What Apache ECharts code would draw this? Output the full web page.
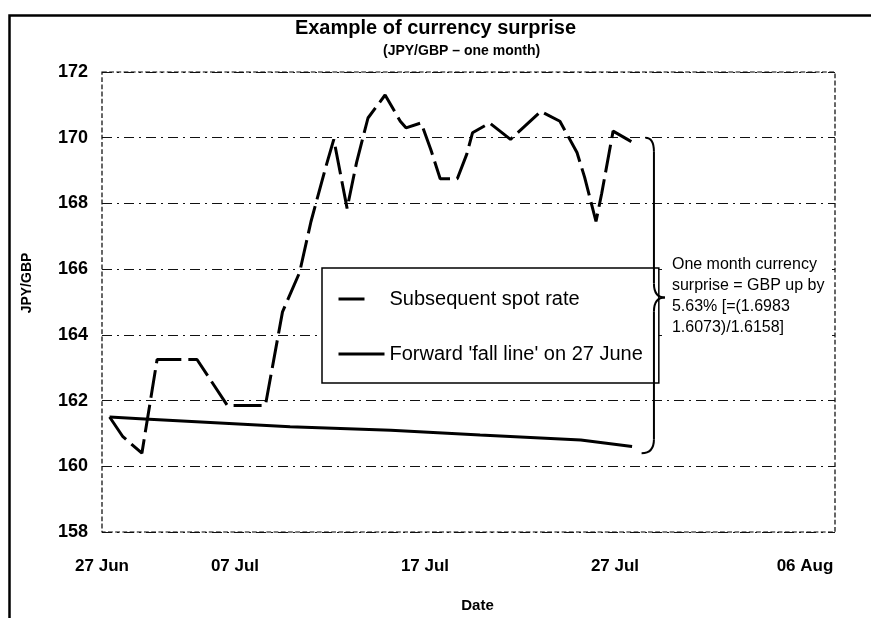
<!DOCTYPE html>
<html>
<head>
<meta charset="utf-8">
<script src="https://cdn.jsdelivr.net/npm/echarts@6/dist/echarts.min.js"></script>
<style>
html,body{margin:0;padding:0;background:#fff;}
#chart{width:871px;height:618px;}
</style>
</head>
<body>
<div id="chart"></div>
<script>
// x = days after 27 Jun
var spotDays = [3.4, 4.1, 5.1, 5.9, 8.0, 9.6, 11.6, 12.5, 13.4, 14.0, 14.8, 15.2, 15.9, 16.4, 17.0, 17.9, 18.7, 19.0, 19.8, 20.3, 20.8, 21.7, 22.2, 22.5, 23.4, 24.5, 26.1, 27.1, 28.0, 28.4, 29.0, 29.3, 29.9, 31.1];
var spotRate = [161.5, 160.9, 160.4, 163.25, 163.25, 161.85, 161.85, 164.7, 165.9, 167.45, 169.15, 169.95, 167.85, 169.25, 170.6, 171.3, 170.5, 170.3, 170.45, 169.65, 168.75, 168.75, 169.5, 170.15, 170.45, 169.95, 170.8, 170.5, 169.55, 168.8, 167.45, 168.3, 170.2, 169.8];
var fwdDays = [3.4, 5.0, 12.9, 18.2, 22.9, 28.2, 30.9];
var fwdRate = [161.5, 161.45, 161.2, 161.1, 160.95, 160.8, 160.6];

var tickDays = [0, 10, 20, 30, 40];
var tickLabels = ["27 Jun", "07 Jul", "17 Jul", "27 Jul", "06 Aug"];
var noteLines = ["One month currency", "surprise = GBP up by", "5.63% [=(1.6983", "1.6073)/1.6158]"];

var xMin = 3.0, xMax = 41.58;
var font = "'Liberation Sans', Arial, sans-serif";

function pairs(xs, ys){
    return xs.map(function(x, i){ return [x, ys[i]]; });
}

var myChart = echarts.init(document.getElementById('chart'));
myChart.setOption({
    animation: false,
    backgroundColor: '#fff',
    textStyle: {fontFamily: font, color: '#000'},
    title: [
        {text: 'Example of currency surprise', left: 'center', top: 13,
         textStyle: {fontSize: 20, fontWeight: 'bold', color: '#000', fontFamily: font}},
        {text: '(JPY/GBP \u2013 one month)', left: 378, top: 39,
         textStyle: {fontSize: 14, fontWeight: 'bold', color: '#000', fontFamily: font}}
    ],
    legend: {
        orient: 'vertical',
        left: 322, top: 268,
        padding: [21, 16, 19, 15],
        itemGap: 35,
        itemWidth: 46,
        itemHeight: 14,
        backgroundColor: '#fff',
        borderColor: '#000',
        borderWidth: 1.5,
        borderRadius: 0,
        itemStyle: {opacity: 0},
        textStyle: {fontSize: 20, color: '#000', fontFamily: font},
        data: [
            {name: 'Subsequent spot rate', lineStyle: {type: [26, 30], width: 3}},
            {name: "Forward 'fall line' on 27 June", lineStyle: {width: 3}}
        ]
    },
    grid: {left: 102, right: 36, top: 72, bottom: 83, show: true,
           borderColor: '#000', borderWidth: 1.2, borderType: 'dashed'},
    xAxis: {
        type: 'value', min: xMin, max: xMax,
        name: 'Date', nameLocation: 'middle', nameGap: 66,
        nameTextStyle: {fontSize: 15, fontWeight: 'bold', color: '#000', padding: [0, 0, 0, 18]},
        axisLine: {show: false},
        axisTick: {show: false},
        splitLine: {show: false},
        axisLabel: {
            customValues: tickDays.map(function(d){ return Math.max(d, xMin); }),
            margin: 26, fontSize: 17, fontWeight: 'bold', color: '#000',
            formatter: function(v){
                var i = tickDays.indexOf(v);
                return i < 0 ? tickLabels[0] : tickLabels[i];
            }
        }
    },
    yAxis: {
        type: 'value', min: 158, max: 172, interval: 2,
        axisLine: {show: false},
        axisTick: {show: false},
        axisLabel: {margin: 14, fontSize: 18, fontWeight: 'bold', color: '#000'},
        splitLine: {lineStyle: {color: '#111', width: 1.2, type: [10, 5, 2, 5]}}
    },
    series: [
        {name: 'Subsequent spot rate', type: 'line', symbol: 'none',
         data: pairs(spotDays, spotRate),
         lineStyle: {color: '#000', width: 3, type: [28, 7]},
         itemStyle: {color: '#000'}},
        {name: "Forward 'fall line' on 27 June", type: 'line', symbol: 'none',
         data: pairs(fwdDays, fwdRate),
         lineStyle: {color: '#000', width: 3},
         itemStyle: {color: '#000'}}
    ]
});

// brace + note, placed from the data ends
var tp = myChart.convertToPixel({gridIndex: 0}, [31.6, 170.0]);
var bp = myChart.convertToPixel({gridIndex: 0}, [31.4, 160.4]);
var vx = myChart.convertToPixel({gridIndex: 0}, [32.05, 165])[0];
var tipX = vx + 11;
var midY = (tp[1] + bp[1]) / 2 + 2;
var r = 14;
var braceStyle = {fill: 'none', stroke: '#000', lineWidth: 2};

myChart.setOption({
    graphic: [
        {type: 'rect', left: 7, top: 13, silent: true, z: 100,
         shape: {width: 900, height: 700},
         style: {fill: 'none', stroke: '#000', lineWidth: 2.5}},
        {type: 'rect', silent: true, z: 90,
         shape: {x: tipX + 2, y: midY - 50, width: 832 - tipX - 2, height: 96},
         style: {fill: '#fff'}},
        {type: 'bezierCurve', silent: true, z: 100, style: braceStyle,
         shape: {x1: tp[0], y1: tp[1], cpx1: vx, cpy1: tp[1], x2: vx, y2: tp[1] + r}},
        {type: 'line', silent: true, z: 100, style: braceStyle,
         shape: {x1: vx, y1: tp[1] + r, x2: vx, y2: midY - r}},
        {type: 'bezierCurve', silent: true, z: 100, style: braceStyle,
         shape: {x1: vx, y1: midY - r, cpx1: vx, cpy1: midY, x2: tipX, y2: midY}},
        {type: 'bezierCurve', silent: true, z: 100, style: braceStyle,
         shape: {x1: tipX, y1: midY, cpx1: vx, cpy1: midY, x2: vx, y2: midY + r}},
        {type: 'line', silent: true, z: 100, style: braceStyle,
         shape: {x1: vx, y1: midY + r, x2: vx, y2: bp[1] - r}},
        {type: 'bezierCurve', silent: true, z: 100, style: braceStyle,
         shape: {x1: vx, y1: bp[1] - r, cpx1: vx, cpy1: bp[1], x2: bp[0], y2: bp[1]}},
        {type: 'text', x: tipX + 7, y: midY - 43, silent: true, z: 100,
         style: {text: noteLines.join('\n'), font: '16px ' + font, fill: '#000', lineHeight: 21}},
        {type: 'text', x: 27, y: 283, rotation: Math.PI / 2, silent: true, z: 100,
         style: {text: 'JPY/GBP', font: 'bold 14px ' + font, fill: '#000',
                 align: 'center', verticalAlign: 'middle'}}
    ]
});

window.addEventListener("resize", function() {
    myChart.resize();
});
</script>
</body>
</html>
